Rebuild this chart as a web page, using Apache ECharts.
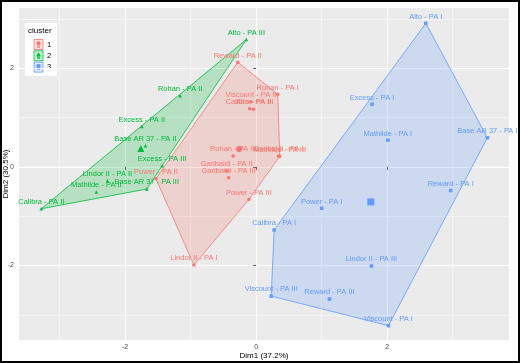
<!DOCTYPE html>
<html>
<head>
<meta charset="utf-8">
<script src="https://cdn.jsdelivr.net/npm/echarts@6/dist/echarts.min.js"></script>
<style>
html, body { margin: 0; padding: 0; background: #fff; }
#chart { width: 520px; height: 363px; }
</style>
</head>
<body>
<div id="chart"></div>
<script>
var clusterNames = ['1', '2', '3'];
var clusterColors = ['#F8766D', '#00BA38', '#619CFF'];
var clusterSymbols = ['circle', 'triangle', 'rect'];

// cluster 1
var names1 = ['Reward - PA II', 'Rohan - PA I', 'Viscount - PA II', 'Calibra - PA III', 'Alto - PA II',
  'Rohan - PA III', 'Mathilde - PA III', 'Garibaldi - PA I', 'Garibaldi - PA II', 'Garibaldi - PA III',
  'Power - PA II', 'Power - PA III', 'Lindor II - PA I'];
var x1 = [-0.28, 0.33, -0.08, -0.10, -0.04, -0.35, 0.36, 0.34, -0.45, -0.42, -1.53, -0.11, -0.95];
var y1 = [2.12, 1.47, 1.32, 1.18, 1.17, 0.22, 0.21, 0.22, -0.08, -0.22, -0.24, -0.66, -1.99];

// cluster 2
var names2 = ['Alto - PA III', 'Rohan - PA II', 'Excess - PA II', 'Base AR 37 - PA II', 'Excess - PA III',
  'Lindor II - PA II', 'Mathilde - PA II', 'Base AR 37 - PA III', 'Calibra - PA II'];
var x2 = [-0.15, -1.16, -1.745, -1.69, -1.435, -2.27, -2.44, -1.67, -3.28];
var y2 = [2.58, 1.44, 0.82, 0.43, 0.02, -0.28, -0.51, -0.45, -0.85];

// cluster 3
var names3 = ['Alto - PA I', 'Excess - PA I', 'Mathilde - PA I', 'Base AR 37 - PA I', 'Reward - PA I',
  'Power - PA I', 'Calibra - PA I', 'Lindor II - PA III', 'Viscount - PA III', 'Reward - PA III', 'Viscount - PA I'];
var x3 = [2.59, 1.77, 2.01, 3.53, 2.97, 1.00, 0.275, 1.76, 0.23, 1.12, 2.02];
var y3 = [2.91, 1.27, 0.54, 0.59, -0.48, -0.84, -1.28, -2.01, -2.62, -2.68, -3.22];

// cluster centres
var centerX = [-0.26, -1.76, 1.75];
var centerY = [0.36, 0.37, -0.71];

var xTicks = [-2, 0, 2];
var yTicks = [-2, 0, 2];

var groups = [
  { names: names1, x: x1, y: y1 },
  { names: names2, x: x2, y: y2 },
  { names: names3, x: x3, y: y3 }
];

function hexAlpha(hex, a) {
  var r = parseInt(hex.slice(1, 3), 16), g = parseInt(hex.slice(3, 5), 16), b = parseInt(hex.slice(5, 7), 16);
  return 'rgba(' + r + ',' + g + ',' + b + ',' + a + ')';
}

// convex hull (monotone chain)
function hull(pts) {
  pts = pts.slice().sort(function (a, b) { return a[0] - b[0] || a[1] - b[1]; });
  function cross(o, a, b) { return (a[0] - o[0]) * (b[1] - o[1]) - (a[1] - o[1]) * (b[0] - o[0]); }
  var lower = [], upper = [];
  pts.forEach(function (p) {
    while (lower.length >= 2 && cross(lower[lower.length - 2], lower[lower.length - 1], p) <= 0) lower.pop();
    lower.push(p);
  });
  pts.slice().reverse().forEach(function (p) {
    while (upper.length >= 2 && cross(upper[upper.length - 2], upper[upper.length - 1], p) <= 0) upper.pop();
    upper.push(p);
  });
  lower.pop(); upper.pop();
  return lower.concat(upper);
}

var font = 'Liberation Sans';
var series = [];

groups.forEach(function (g, k) {
  var pts = g.x.map(function (v, i) { return [v, g.y[i]]; });
  var hp = hull(pts);
  series.push({
    type: 'custom',
    silent: true,
    z: 1,
    data: [[g.x[0], g.y[0]]],
    renderItem: function (params, api) {
      return {
        type: 'polygon',
        shape: { points: hp.map(function (p) { return api.coord(p); }) },
        style: { fill: hexAlpha(clusterColors[k], 0.22), stroke: clusterColors[k], lineWidth: 0.8 }
      };
    }
  });
});

groups.forEach(function (g, k) {
  series.push({
    type: 'scatter',
    name: clusterNames[k],
    silent: true,
    z: 3,
    symbol: clusterSymbols[k],
    symbolSize: 3.5,
    itemStyle: { color: clusterColors[k], opacity: 1 },
    label: {
      show: true,
      position: 'top',
      distance: 1,
      formatter: '{b}',
      fontFamily: font,
      fontSize: 7.5,
      color: clusterColors[k]
    },
    labelLayout: { hideOverlap: false },
    data: g.names.map(function (n, i) { return { name: n, value: [g.x[i], g.y[i]] }; })
  });
  series.push({
    type: 'scatter',
    silent: true,
    z: 4,
    symbol: clusterSymbols[k],
    symbolSize: k === 0 ? 6 : 7,
    itemStyle: { color: clusterColors[k], opacity: 1 },
    data: [[centerX[k], centerY[k]]]
  });
});

// legend drawn as graphic elements
var legendItems = [
  { type: 'rect', shape: { x: 25, y: 23, width: 32, height: 53 }, style: { fill: '#fff' } },
  { type: 'text', x: 28, y: 31, style: { text: 'cluster', fontFamily: font, fontSize: 8, fill: '#000', textVerticalAlign: 'middle' } }
];
clusterNames.forEach(function (n, k) {
  var ky = 39.5 + k * 11.3;
  legendItems.push({ type: 'rect', shape: { x: 34, y: ky, width: 9, height: 10 },
    style: { fill: hexAlpha(clusterColors[k], 0.22), stroke: clusterColors[k], lineWidth: 0.8 } });
  legendItems.push({ type: 'text', x: 38.5, y: ky + 6.5, style: { text: 'a', fontFamily: font, fontSize: 6, fontWeight: 'bold',
    fill: clusterColors[k], textAlign: 'center', textVerticalAlign: 'middle' } });
  var sym = k === 0 ? { type: 'circle', shape: { cx: 38.5, cy: ky + 3.8, r: 2 } }
    : k === 1 ? { type: 'polygon', shape: { points: [[38.5, ky + 1.5], [41, ky + 5.5], [36, ky + 5.5]] } }
    : { type: 'rect', shape: { x: 36.5, y: ky + 2, width: 4, height: 4 } };
  sym.style = { fill: clusterColors[k] };
  legendItems.push(sym);
  legendItems.push({ type: 'text', x: 47, y: ky + 5, style: { text: n, fontFamily: font, fontSize: 7.5, fill: '#000', textVerticalAlign: 'middle' } });
});
legendItems.push({ type: 'rect', shape: { x: 1, y: 1, width: 518, height: 361 }, style: { fill: 'none', stroke: '#000', lineWidth: 2 }, z: 100 });

var chart = echarts.init(document.getElementById('chart'), null, { renderer: 'canvas' });
var option = {
  animation: false,
  backgroundColor: '#fff',
  grid: { left: 19, right: 11, top: 8, bottom: 23, show: true, backgroundColor: '#EBEBEB', borderWidth: 0,
    containLabel: false, outerBoundsMode: 'none' },
  xAxis: {
    type: 'value',
    min: -3.62, max: 3.86,
    splitNumber: 4,
    name: 'Dim1 (37.2%)',
    nameLocation: 'middle',
    nameGap: 12,
    nameMoveOverlap: false,
    nameTextStyle: { fontFamily: font, fontSize: 8, color: '#000' },
    axisLine: { show: false },
    axisTick: { show: true, length: 3, customValues: xTicks, lineStyle: { color: '#333', width: 0.8 } },
    axisLabel: { customValues: xTicks, fontFamily: font, fontSize: 7, color: '#4D4D4D', margin: 4 },
    splitLine: { show: true, lineStyle: { color: '#fff', width: 1.1 } },
    minorTick: { show: false, splitNumber: 2 },
    minorSplitLine: { show: true, lineStyle: { color: '#fff', width: 0.5 } }
  },
  yAxis: {
    type: 'value',
    min: -3.51, max: 3.22,
    splitNumber: 4,
    name: 'Dim2 (30.5%)',
    nameLocation: 'middle',
    nameGap: 9,
    nameMoveOverlap: false,
    nameTextStyle: { fontFamily: font, fontSize: 8, color: '#000' },
    axisLine: { show: false },
    axisTick: { show: true, length: 3, customValues: yTicks, lineStyle: { color: '#333', width: 0.8 } },
    axisLabel: { customValues: yTicks, fontFamily: font, fontSize: 7, color: '#4D4D4D', margin: 5 },
    splitLine: { show: true, lineStyle: { color: '#fff', width: 1.1 } },
    minorTick: { show: false, splitNumber: 2 },
    minorSplitLine: { show: true, lineStyle: { color: '#fff', width: 0.5 } }
  },
  graphic: legendItems,
  series: series
};
chart.setOption(option);
window.addEventListener('resize', function () { chart.resize(); });
</script>
</body>
</html>
